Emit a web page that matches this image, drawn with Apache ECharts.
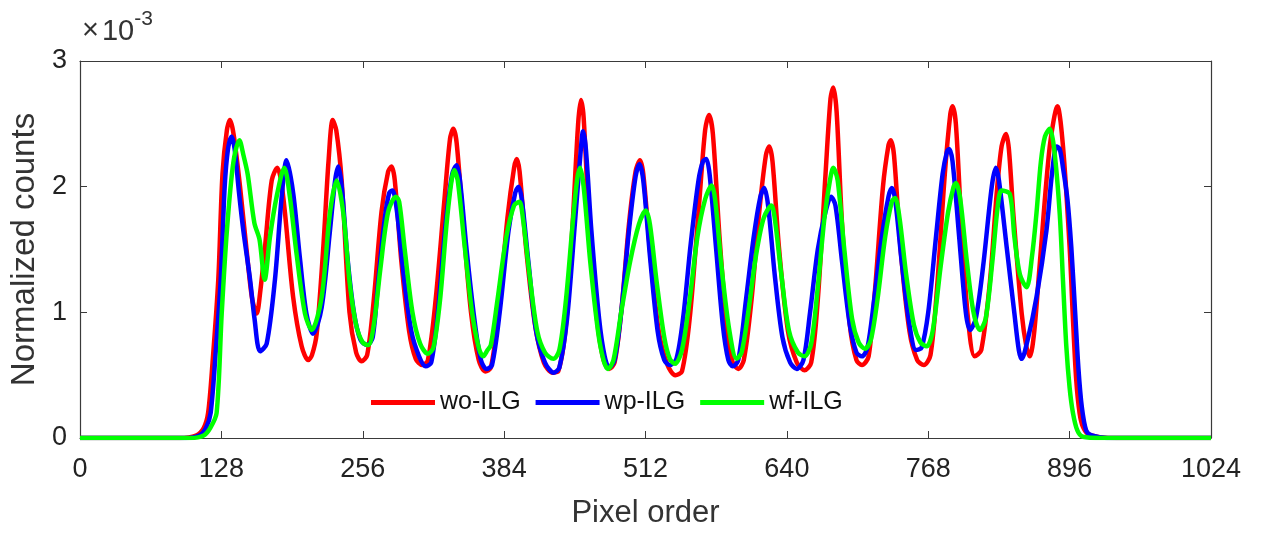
<!DOCTYPE html>
<html>
<head>
<meta charset="utf-8">
<script src="https://cdn.jsdelivr.net/npm/echarts@6/dist/echarts.min.js"></script>
<style>
  html, body { margin: 0; padding: 0; background: #fff; }
  #chart { width: 1263px; height: 533px; }
</style>
</head>
<body>
<div id="chart"></div>
<script>
// x ticks (pixel order) and y ticks (x 10^-3)
const xTicks = [0, 128, 256, 384, 512, 640, 768, 896, 1024]
const yTicks = [0, 1, 2, 3]
const seriesNames = ['wo-ILG', 'wp-ILG', 'wf-ILG']

// [pixel, counts x1e-3]
const woILG = [
  [0,0],[90,0],[105,0.02],[112,0.08],[116,0.2],[120,0.6],[125.2,1.26],[129,2.1],[133,2.45],[135.8,2.53],[139,2.42],[144.9,2.0],
  [152.4,1.36],[156,1.1],[160,0.99],[163,1.15],[167.5,1.52],[173.6,2.05],[178.7,2.15],[182,2.05],[185.6,1.79],[193,1.12],
  [200.7,0.73],[206.7,0.62],[210,0.66],[214.3,0.83],[220.3,1.52],[225,2.2],[228.8,2.53],[232,2.45],[236.9,2.05],[244,1.0],
  [250,0.68],[255,0.61],[260,0.66],[266,1.1],[273,1.8],[279,2.12],[282,2.16],[285,2.05],[291,1.4],[298,0.85],
  [304,0.63],[310,0.58],[315,0.62],[322,1.1],[330,1.9],[335,2.38],[338,2.46],[341,2.35],[347,1.7],[354,1.0],
  [361,0.62],[367,0.53],[372,0.56],[379,1.0],[387,1.75],[393,2.15],[395.5,2.22],[398,2.12],[404,1.5],[412,0.9],
  [420,0.6],[428,0.52],[433,0.53],[440,0.9],[446,1.7],[451,2.5],[453.5,2.69],[456,2.55],[461,1.7],[468,0.95],
  [474,0.62],[479,0.55],[484,0.6],[490,1.0],[497,1.7],[503,2.12],[507,2.21],[510,2.1],[516,1.5],[524,0.85],
  [532,0.58],[539,0.5],[545,0.53],[552,0.95],[560,1.8],[566,2.45],[569.5,2.57],[573,2.42],[579,1.6],[586,0.85],
  [591,0.6],[596,0.55],[601,0.62],[608,1.1],[615,1.8],[621,2.25],[624,2.32],[627,2.2],[633,1.5],[641,0.85],
  [649,0.6],[656,0.54],[662,0.6],[668,1.1],[675,2.1],[679.5,2.7],[682,2.79],[685,2.6],[690,1.7],[697,0.9],
  [703,0.62],[708,0.58],[714,0.65],[720,1.2],[727,2.0],[732,2.33],[734,2.37],[737,2.25],[743,1.5],[751,0.85],
  [758,0.62],[764,0.58],[770,0.66],[776,1.2],[783,2.1],[788,2.58],[790,2.64],[793,2.5],[798,1.7],[804,0.95],
  [810,0.65],[816,0.7],[824,1.26],[830,1.95],[834.4,2.32],[838.4,2.42],[841,2.3],[845,1.79],[852.6,0.99],[857,0.72],
  [860,0.65],[864,0.85],[869,1.39],[878,2.32],[885,2.64],[890,2.32],[896,1.52],[899,0.95],[902,0.46],[905,0.2],
  [908,0.09],[913,0.03],[925,0.005],[940,0],[1024,0]
]
const wpILG = [
  [0,0],[95,0],[108,0.02],[114,0.08],[118.3,0.2],[123,0.7],[127.4,1.26],[131,2.0],[134,2.3],[137.3,2.4],[140,2.3],[144,1.95],
  [147.9,1.65],[154,1.26],[158,0.95],[163,0.69],[169,0.75],[176.5,1.26],[182.6,1.92],[187,2.21],[193,1.95],[199,1.44],
  [205,0.99],[211,0.83],[218.8,1.04],[226.3,1.65],[231,2.05],[233.9,2.16],[237,2.0],[242,1.45],[248,1.0],[254,0.78],
  [260,0.74],[265,0.8],[270,1.25],[276,1.75],[280,1.95],[283,1.97],[287,1.8],[293,1.3],[300,0.85],[307,0.65],
  [313,0.57],[318,0.6],[324,1.0],[331,1.7],[337,2.1],[341,2.17],[344,2.05],[350,1.5],[357,0.95],[363,0.62],
  [368,0.55],[373,0.58],[380,1.0],[388,1.65],[394,1.95],[397,2.0],[400,1.9],[406,1.4],[413,0.85],[421,0.6],
  [429,0.52],[434,0.56],[441,0.95],[448,1.7],[453,2.25],[455.5,2.44],[458,2.3],[463,1.65],[470,0.95],[475,0.65],
  [479,0.56],[484,0.62],[490,1.0],[497,1.65],[503,2.08],[506.5,2.18],[510,2.05],[516,1.45],[523,0.85],[529,0.62],
  [534,0.58],[540,0.63],[546,0.95],[553,1.55],[560,2.05],[564,2.2],[567,2.22],[570,2.1],[576,1.5],[582,0.9],
  [587,0.62],[591,0.57],[596,0.62],[603,1.1],[610,1.6],[616,1.92],[619.5,1.99],[623,1.85],[629,1.3],[636,0.8],
  [643,0.6],[649,0.55],[655,0.62],[661,1.0],[668,1.5],[675,1.8],[680,1.92],[684,1.85],[690,1.4],[697,0.9],
  [703,0.68],[708,0.65],[713,0.72],[719,1.1],[726,1.6],[732,1.92],[735,1.99],[738,1.9],[744,1.4],[751,0.9],
  [757,0.7],[762,0.72],[768,1.0],[775,1.6],[781,2.1],[785,2.28],[787,2.3],[790,2.2],[796,1.6],[802,1.0],
  [805.8,0.86],[811,0.95],[817.6,1.36],[825.5,2.0],[829.3,2.15],[832,2.05],[839,1.52],[846,0.99],[850,0.7],[852.6,0.63],
  [858,0.78],[866,1.12],[875,1.65],[880,2.1],[884.3,2.32],[887,2.3],[890,2.15],[894,1.9],[897.5,1.52],[901,1.0],
  [904,0.55],[907,0.25],[911,0.06],[916,0.02],[930,0],[1024,0]
]
const wfILG = [
  [0,0],[100,0],[112,0.02],[118,0.08],[123.7,0.2],[128.3,0.99],[133,1.65],[138.8,2.19],[144.3,2.37],[148,2.25],[151.8,2.1],
  [157.9,1.71],[162.5,1.58],[167.2,1.26],[172,1.6],[178,1.92],[185,2.15],[190,1.92],[196,1.47],[203.7,0.99],[209.8,0.86],
  [218.8,1.12],[226.3,1.79],[232.4,2.05],[238.4,1.79],[244,1.25],[250,0.9],[256,0.76],[261,0.74],[266,0.9],[272,1.35],
  [279,1.8],[286,1.92],[289,1.88],[294,1.5],[301,1.0],[308,0.75],[315,0.67],[320,0.72],[326,1.1],[333,1.8],
  [339,2.13],[342,2.05],[348,1.55],[355,1.0],[361,0.72],[365,0.65],[369,0.7],[372,0.74],[378,1.1],[386,1.6],
  [393,1.85],[397.8,1.88],[401,1.75],[407,1.3],[414,0.85],[421,0.68],[428.6,0.63],[434,0.7],[440,1.1],[446,1.7],
  [450,2.05],[452.7,2.15],[456,2.0],[462,1.4],[469,0.85],[474,0.62],[478,0.55],[483,0.62],[490,1.0],[498,1.4],
  [506,1.7],[512.2,1.81],[516,1.7],[522,1.25],[529,0.8],[534,0.63],[538.7,0.59],[545,0.7],[552,1.1],[559,1.6],
  [566,1.9],[571.9,2.01],[575,1.9],[581,1.35],[588,0.85],[594.5,0.63],[599,0.68],[605,1.0],[612,1.45],[619,1.75],
  [626,1.85],[629,1.75],[635,1.3],[642,0.85],[650,0.68],[656,0.65],[662,0.75],[668,1.2],[674,1.75],[679,2.05],
  [682,2.15],[686,2.05],[692,1.5],[699,0.95],[705,0.76],[710.7,0.71],[716,0.78],[722,1.1],[729,1.6],[735,1.88],
  [738,1.91],[742,1.75],[748,1.3],[755,0.9],[761,0.76],[766.6,0.73],[772,0.85],[779,1.35],[786,1.8],[791,2.0],
  [793,2.03],[797,1.9],[803,1.4],[809,1.0],[814.8,0.86],[820,0.95],[826,1.4],[831,1.85],[834.4,1.97],[841.9,1.94],
  [846,1.6],[851,1.3],[857,1.2],[862,1.45],[866,1.79],[870,2.2],[873.7,2.4],[878,2.46],[882,2.3],[887,1.79],
  [890,1.25],[893,0.73],[896,0.4],[899,0.2],[903,0.06],[908,0.01],[925,0],[1024,0]
]
const colors = ['#ff0000', '#0000ff', '#00ff00']

const font = '"Liberation Sans", Arial, Helvetica, sans-serif'
const axisColor = '#3a3a3a'
const chart = echarts.init(document.getElementById('chart'))

const baseX = {
  type: 'value',
  min: xTicks[0],
  max: xTicks[xTicks.length - 1],
  interval: 128,
  splitLine: { show: false },
  axisLine: { show: true, onZero: false, lineStyle: { color: axisColor, width: 1.2 } },
  axisTick: { show: true, inside: true, length: 7, lineStyle: { color: axisColor } }
}
const baseY = {
  type: 'value',
  min: yTicks[0],
  max: yTicks[yTicks.length - 1],
  interval: 1,
  splitLine: { show: false },
  axisLine: { show: true, onZero: false, lineStyle: { color: axisColor, width: 1.2 } },
  axisTick: { show: true, inside: true, length: 7, lineStyle: { color: axisColor } }
}

chart.setOption({
  animation: false,
  backgroundColor: '#fff',
  textStyle: { fontFamily: font },
  grid: { left: 80, right: 52, top: 61, bottom: 95, containLabel: false, outerBoundsMode: 'none' },
  legend: {
    data: seriesNames,
    top: 385,
    left: 366,
    icon: 'rect',
    itemWidth: 64,
    itemHeight: 5,
    itemGap: 15,
    textStyle: { fontSize: 25, color: '#111', fontFamily: font }
  },
  graphic: [{
    type: 'text',
    left: 82,
    top: 9,
    style: {
      text: '{a|×}{b|10}{c|-3}',
      rich: {
        a: { fontSize: 29, fill: '#333', fontFamily: font, padding: [6, 3, 0, 0] },
        b: { fontSize: 29, fill: '#333', fontFamily: font, padding: [8, 0, 0, 0] },
        c: { fontSize: 21, fill: '#333', fontFamily: font, verticalAlign: 'top', padding: [0, 0, 10, 0] }
      }
    }
  }],
  xAxis: [
    Object.assign({}, baseX, {
      position: 'bottom',
      name: 'Pixel order',
      nameLocation: 'middle',
      nameGap: 60,
      nameTextStyle: { fontSize: 31, color: '#333', fontFamily: font },
      axisLabel: { fontSize: 27, color: '#222', margin: 18, fontFamily: font, formatter: v => String(v) }
    }),
    Object.assign({}, baseX, { position: 'top', axisLabel: { show: false } })
  ],
  yAxis: [
    Object.assign({}, baseY, {
      position: 'left',
      name: 'Normalized counts',
      nameLocation: 'middle',
      nameGap: 36,
      nameTextStyle: { fontSize: 33, color: '#333', fontFamily: font },
      axisLabel: { fontSize: 27, color: '#222', margin: 13, fontFamily: font }
    }),
    Object.assign({}, baseY, { position: 'right', axisLabel: { show: false } })
  ],
  series: [woILG, wpILG, wfILG].map((data, i) => ({
    name: seriesNames[i],
    type: 'line',
    data: data,
    xAxisIndex: 0,
    yAxisIndex: 0,
    showSymbol: false,
    smooth: 0.3,
    color: colors[i],
    lineStyle: { color: colors[i], width: 4.5 }
  }))
})
</script>
</body>
</html>
